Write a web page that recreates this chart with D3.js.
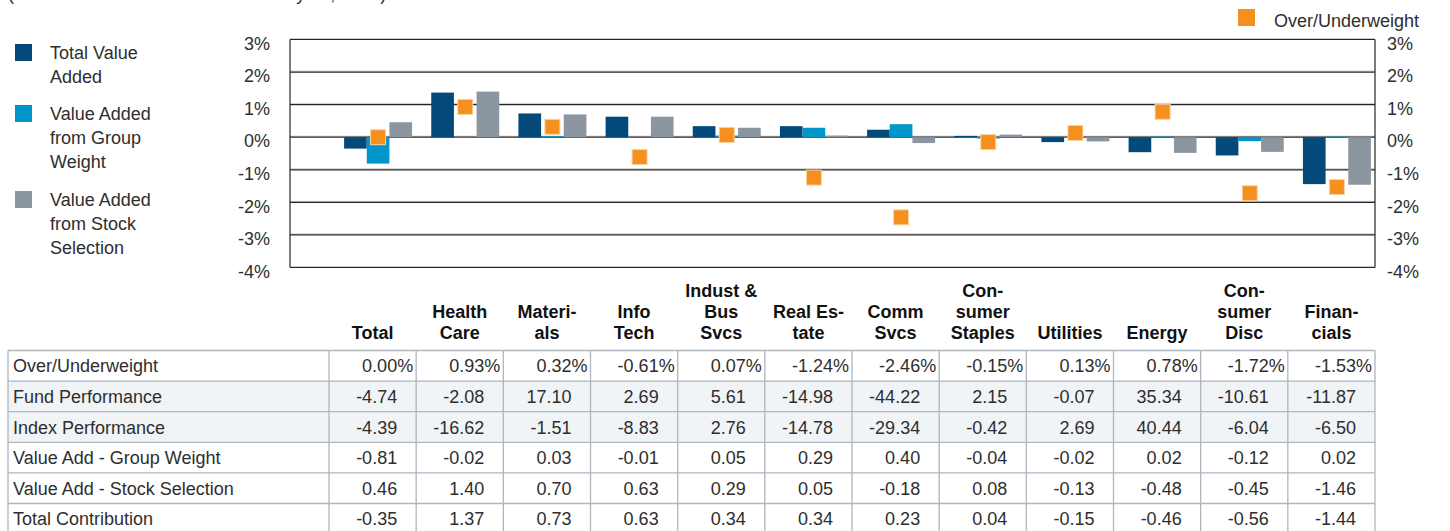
<!DOCTYPE html>
<html>
<head>
<meta charset="utf-8">
<script src="https://cdn.jsdelivr.net/npm/d3@7"></script>
<style>
  body { margin: 0; background: #fff; }
  svg { display: block; font-family: "Liberation Sans", Arial, sans-serif; }
</style>
</head>
<body>
<svg id="chart" width="1450" height="531"></svg>
<script>
// sectors, in table order
const categories = ["Total", "Health Care", "Materials", "Info Tech", "Indust & Bus Svcs", "Real Estate",
  "Comm Svcs", "Consumer Staples", "Utilities", "Energy", "Consumer Disc", "Financials"];
const headerLines = [["Total"], ["Health", "Care"], ["Materi-", "als"], ["Info", "Tech"], ["Indust &", "Bus", "Svcs"],
  ["Real Es-", "tate"], ["Comm", "Svcs"], ["Con-", "sumer", "Staples"], ["Utilities"], ["Energy"],
  ["Con-", "sumer", "Disc"], ["Finan-", "cials"]];

const overUnder    = [0.00, 0.93, 0.32, -0.61, 0.07, -1.24, -2.46, -0.15, 0.13, 0.78, -1.72, -1.53];
const fundPerf     = [-4.74, -2.08, 17.10, 2.69, 5.61, -14.98, -44.22, 2.15, -0.07, 35.34, -10.61, -11.87];
const indexPerf    = [-4.39, -16.62, -1.51, -8.83, 2.76, -14.78, -29.34, -0.42, 2.69, 40.44, -6.04, -6.50];
const groupWeight  = [-0.81, -0.02, 0.03, -0.01, 0.05, 0.29, 0.40, -0.04, -0.02, 0.02, -0.12, 0.02];
const stockSel     = [0.46, 1.40, 0.70, 0.63, 0.29, 0.05, -0.18, 0.08, -0.13, -0.48, -0.45, -1.46];
const totalContrib = [-0.35, 1.37, 0.73, 0.63, 0.34, 0.34, 0.23, 0.04, -0.15, -0.46, -0.56, -1.44];

const yTicks = [3, 2, 1, 0, -1, -2, -3, -4];

const seriesNames = ["Total Value Added", "Value Added from Group Weight", "Value Added from Stock Selection"];
const legendLines = [["Total Value", "Added"], ["Value Added", "from Group", "Weight"], ["Value Added", "from Stock", "Selection"]];
const colors = ["#034a7a", "#0096cb", "#8c96a1"];
const orange = "#f5901e";

const rowLabels = ["Over/Underweight", "Fund Performance", "Index Performance",
  "Value Add - Group Weight", "Value Add - Stock Selection", "Total Contribution"];
const rowData = [overUnder, fundPerf, indexPerf, groupWeight, stockSel, totalContrib];

const svg = d3.select("#chart");
const textCol = "#2e2e2e";
const fmt = v => d3.format(".2f")(v).replace("\u2212", "-");

// subtitle, cut off at the top edge
svg.append("text").attr("x", 8).attr("y", 0).attr("font-size", 18).attr("fill", textCol)
  .text("(For the three months ended January 31, 2025)");

// ---- chart ----
const plot = {left: 290, right: 1375, top: 39.5, bottom: 267.5};
const y = d3.scaleLinear().domain([-4, 3]).range([plot.bottom, plot.top]);

const tableX0 = 329, tableX1 = 1375;
const x = d3.scaleBand().domain(categories).range([tableX0 + 5.5, tableX1 + 5.5])
  .paddingInner(0.22).paddingOuter(0.11);
const xSub = d3.scaleBand().domain(d3.range(3)).range([0, x.bandwidth()]);

const grid = svg.append("g");
yTicks.forEach(t => {
  grid.append("line").attr("x1", plot.left).attr("x2", plot.right)
    .attr("y1", y(t) - 1).attr("y2", y(t) - 1).attr("stroke", "#c9c9c9").attr("stroke-width", 1);
  grid.append("line").attr("x1", plot.left).attr("x2", plot.right)
    .attr("y1", y(t)).attr("y2", y(t)).attr("stroke", "#262626").attr("stroke-width", 1.2);
});
grid.append("line").attr("x1", plot.left).attr("x2", plot.left).attr("y1", plot.top).attr("y2", plot.bottom)
  .attr("stroke", "#262626").attr("stroke-width", 1.2);
grid.append("line").attr("x1", plot.right).attr("x2", plot.right).attr("y1", plot.top).attr("y2", plot.bottom)
  .attr("stroke", "#262626").attr("stroke-width", 1.2);

const barSeries = [totalContrib, groupWeight, stockSel];
const groups = svg.append("g").selectAll("g").data(categories).join("g")
  .attr("transform", d => `translate(${x(d)},0)`);
groups.selectAll("rect").data((d, i) => barSeries.map((s, k) => ({k, v: s[i]}))).join("rect")
  .attr("x", d => xSub(d.k))
  .attr("width", xSub.bandwidth())
  .attr("y", d => y(Math.max(0, d.v)))
  .attr("height", d => Math.abs(y(d.v) - y(0)))
  .attr("fill", d => colors[d.k]);

// over/underweight markers
svg.append("g").selectAll("rect").data(categories).join("rect")
  .attr("x", d => x(d) + x.bandwidth() / 2 - 7.5)
  .attr("y", (d, i) => y(overUnder[i]) - 7.5)
  .attr("width", 15).attr("height", 15)
  .attr("fill", orange).attr("stroke", "#fbd2a3").attr("stroke-width", 1);

// axes labels
const leftAxis = d3.axisLeft(y).tickValues(yTicks).tickSize(0).tickPadding(20).tickFormat(d => d + "%");
const rightAxis = d3.axisRight(y).tickValues(yTicks).tickSize(0).tickPadding(12).tickFormat(d => d + "%");
[svg.append("g").attr("transform", `translate(${plot.left},4)`).call(leftAxis),
 svg.append("g").attr("transform", `translate(${plot.right},4)`).call(rightAxis)].forEach(g => {
  g.select(".domain").remove();
  g.selectAll("text").attr("font-size", 18).attr("fill", textCol).attr("font-family", null);
});

// left legend
const legend = svg.append("g");
const legendTop = [44, 105, 191];
legendLines.forEach((lines, k) => {
  legend.append("rect").attr("x", 15).attr("y", legendTop[k]).attr("width", 17).attr("height", 17).attr("fill", colors[k]);
  lines.forEach((ln, j) => {
    legend.append("text").attr("x", 50).attr("y", legendTop[k] + 14.5 + j * 24.4)
      .attr("font-size", 18).attr("fill", textCol).text(ln);
  });
});

// top-right legend
svg.append("rect").attr("x", 1238).attr("y", 9).attr("width", 17).attr("height", 17).attr("fill", orange);
svg.append("text").attr("x", 1274).attr("y", 26.5).attr("font-size", 18).attr("fill", textCol).text("Over/Underweight");

// ---- table ----
const col = d3.scaleBand().domain(categories).range([tableX0, tableX1]);
const rowH = 30.6, tableTop = 350.5, labelX0 = 8;
const border = "#aeb6bf";

// column headers
const hdr = svg.append("g").attr("font-size", 18).attr("font-weight", "bold").attr("fill", "#111").attr("text-anchor", "middle");
headerLines.forEach((lines, i) => {
  lines.forEach((ln, j) => {
    hdr.append("text").attr("x", col(categories[i]) + col.bandwidth() / 2)
      .attr("y", 339 - (lines.length - 1 - j) * 21).text(ln);
  });
});

const tbl = svg.append("g");
rowData.forEach((vals, r) => {
  const ry = tableTop + r * rowH;
  if (r === 1 || r === 2) {
    tbl.append("rect").attr("x", labelX0).attr("y", ry).attr("width", tableX1 - labelX0).attr("height", rowH).attr("fill", "#f0f4f7");
  }
  tbl.append("text").attr("x", labelX0 + 5).attr("y", ry + rowH / 2 + 6.5)
    .attr("font-size", 18).attr("fill", textCol).text(rowLabels[r]);
  vals.forEach((v, i) => {
    const right = col(categories[i]) + col.bandwidth();
    tbl.append("text")
      .attr("x", r === 0 ? right - 3 : right - 19)
      .attr("y", ry + rowH / 2 + 6.5)
      .attr("text-anchor", "end").attr("font-size", 18).attr("fill", textCol)
      .text(fmt(v) + (r === 0 ? "%" : ""));
  });
});
// grid lines of the table
d3.range(rowData.length + 1).forEach(r => {
  tbl.append("line").attr("x1", labelX0).attr("x2", tableX1)
    .attr("y1", tableTop + r * rowH).attr("y2", tableTop + r * rowH)
    .attr("stroke", border).attr("stroke-width", 1.3);
});
[labelX0, ...categories.map(c => col(c)), tableX1].forEach(vx => {
  tbl.append("line").attr("x1", vx).attr("x2", vx)
    .attr("y1", tableTop).attr("y2", tableTop + rowData.length * rowH)
    .attr("stroke", border).attr("stroke-width", 1.3);
});
</script>
</body>
</html>
